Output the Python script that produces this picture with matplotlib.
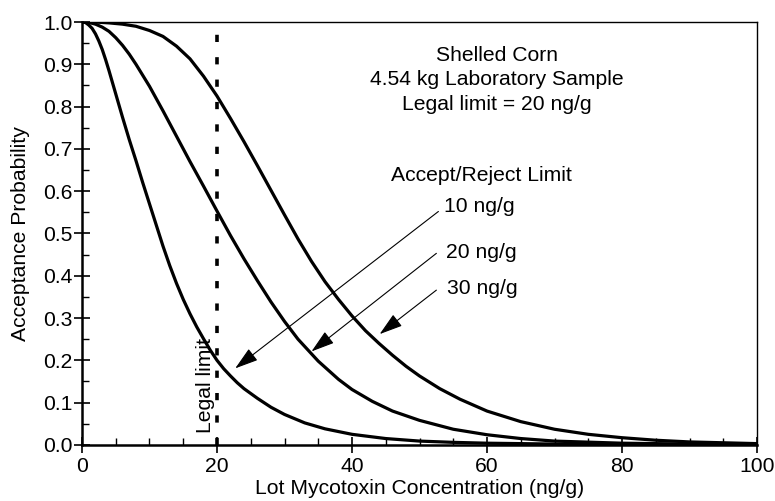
import matplotlib
matplotlib.use("Agg")
import matplotlib.pyplot as plt
from matplotlib.ticker import MultipleLocator

plt.rcParams['font.family'] = ['Liberation Sans', 'DejaVu Sans']

# Accept/reject limit 10 ng/g
x_10 = [0, 0.5, 1, 1.5, 2, 2.5, 3, 3.5, 4, 5, 6, 7, 8, 9, 10, 11, 12, 13, 14, 15,
        16, 17, 18, 19, 20, 21, 22, 23, 24, 26, 28, 30, 33, 36, 40, 45, 50, 55,
        60, 70, 80, 90, 100]
y_10 = [1.0, 0.999, 0.993, 0.985, 0.972, 0.955, 0.935, 0.911, 0.885, 0.83, 0.775,
        0.722, 0.672, 0.62, 0.57, 0.52, 0.47, 0.424, 0.382, 0.344, 0.31, 0.279,
        0.251, 0.224, 0.2, 0.18, 0.163, 0.147, 0.133, 0.11, 0.089, 0.072, 0.052,
        0.038, 0.025, 0.015, 0.009, 0.006, 0.004, 0.002, 0.001, 0.0005, 0.0]

# Accept/reject limit 20 ng/g
x_20 = [0, 1, 2, 3, 4, 5, 6, 7, 8, 10, 12, 14, 16, 18, 20, 22, 24, 26, 28, 30,
        32, 35, 38, 40, 43, 46, 50, 55, 60, 65, 70, 80, 90, 100]
y_20 = [1.0, 0.999, 0.995, 0.988, 0.978, 0.963, 0.945, 0.924, 0.9, 0.848, 0.79,
        0.73, 0.67, 0.612, 0.553, 0.495, 0.44, 0.388, 0.338, 0.292, 0.25, 0.198,
        0.155, 0.131, 0.103, 0.08, 0.058, 0.037, 0.024, 0.015, 0.009, 0.004,
        0.002, 0.001]

# Accept/reject limit 30 ng/g
x_30 = [0, 2, 4, 6, 8, 10, 12, 14, 16, 18, 20, 22, 24, 26, 28, 30, 32, 34, 36,
        38, 40, 42, 44, 46, 48, 50, 53, 56, 60, 65, 70, 75, 80, 85, 90, 100]
y_30 = [1.0, 1.0, 0.998, 0.995, 0.99, 0.98, 0.966, 0.943, 0.913, 0.872, 0.825,
        0.772, 0.717, 0.66, 0.602, 0.544, 0.487, 0.434, 0.386, 0.344, 0.305,
        0.27, 0.24, 0.212, 0.186, 0.163, 0.133, 0.108, 0.08, 0.055, 0.037,
        0.025, 0.017, 0.011, 0.007, 0.003]

legal_limit = 20
x_ticks = [0, 20, 40, 60, 80, 100]
y_ticks = [0.0, 0.1, 0.2, 0.3, 0.4, 0.5, 0.6, 0.7, 0.8, 0.9, 1.0]

fig = plt.figure(figsize=(7.75, 5.01), dpi=100)
ax = fig.add_axes([0.1058, 0.112, 0.871, 0.844])

for xs, ys in [(x_10, y_10), (x_20, y_20), (x_30, y_30)]:
    ax.plot(xs, ys, color='black', lw=2.3, solid_capstyle='butt',
            solid_joinstyle='round')

ax.plot([legal_limit, legal_limit], [0, 0.975], color='black', lw=2.6,
        dashes=(2, 4.2), dash_capstyle='butt')

fs = 15.2

ax.set_xlim(0, 100)
ax.set_ylim(0, 1.0)
ax.set_xticks(x_ticks)
ax.set_yticks(y_ticks)
ax.set_yticklabels([f"{v:.1f}" for v in y_ticks])
ax.xaxis.set_minor_locator(MultipleLocator(5))
ax.yaxis.set_minor_locator(MultipleLocator(0.05))
ax.tick_params(which='major', direction='inout', length=12, width=1.2,
               labelsize=fs, pad=1)
ax.tick_params(axis='x', which='major', pad=3)
ax.tick_params(which='minor', direction='in', length=5, width=1.0)

for s in ['left', 'bottom']:
    ax.spines[s].set_linewidth(1.8)
for s in ['top', 'right']:
    ax.spines[s].set_linewidth(1.0)

ax.set_xlabel('Lot Mycotoxin Concentration (ng/g)', fontsize=fs, labelpad=2)
ax.set_ylabel('Acceptance Probability', fontsize=fs, labelpad=9)

ax.text(61.5, 0.864, 'Shelled Corn\n4.54 kg Laboratory Sample\nLegal limit = 20 ng/g',
        ha='center', va='center', fontsize=fs, linespacing=1.37)
ax.text(59.2, 0.636, 'Accept/Reject Limit', ha='center', va='center', fontsize=fs)
ax.text(53.6, 0.563, '10 ng/g', ha='left', va='center', fontsize=fs)
ax.text(53.9, 0.456, '20 ng/g', ha='left', va='center', fontsize=fs)
ax.text(54.0, 0.369, '30 ng/g', ha='left', va='center', fontsize=fs)
ax.text(19.7, 0.028, 'Legal limit', rotation=90, ha='right', va='bottom', fontsize=fs)

arrow_kw = dict(arrowstyle='-|>,head_length=0.8,head_width=0.25', color='black',
                lw=0.8, mutation_scale=18, shrinkA=0, shrinkB=0)
ax.annotate('', xy=(22.7, 0.181), xytext=(52.8, 0.552), arrowprops=arrow_kw)
ax.annotate('', xy=(34.0, 0.221), xytext=(52.5, 0.453), arrowprops=arrow_kw)
ax.annotate('', xy=(44.1, 0.262), xytext=(52.5, 0.366), arrowprops=arrow_kw)

fig.savefig('out.png', dpi=100)
